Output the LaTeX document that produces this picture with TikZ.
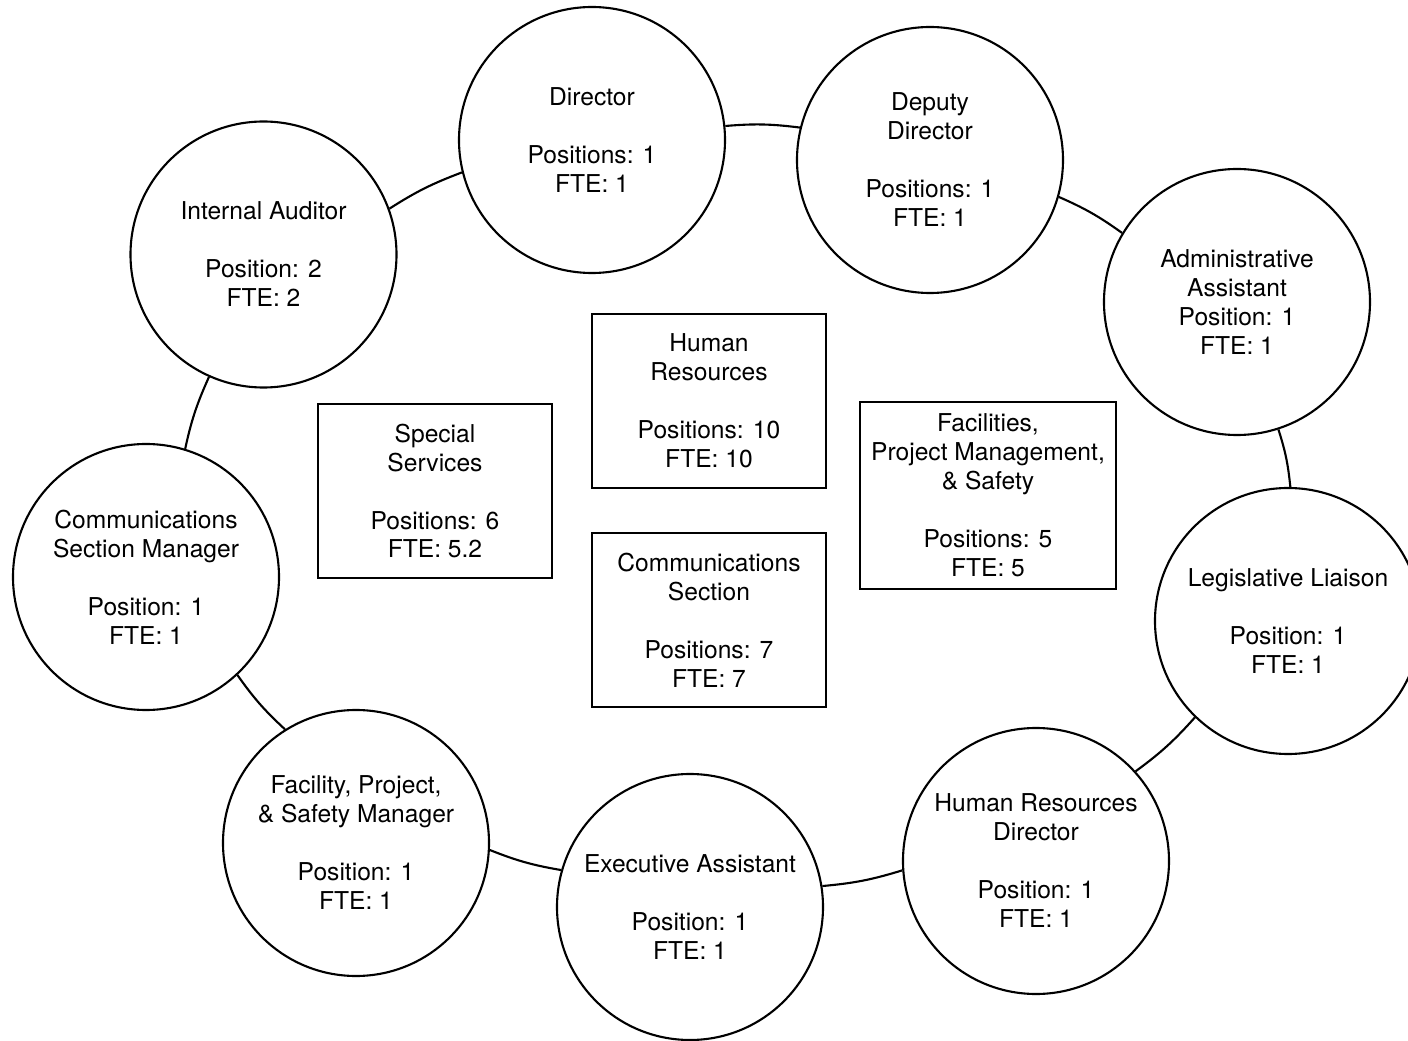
\documentclass[tikz,border=0pt]{standalone}
\usepackage{fontspec}
\setmainfont{TeX Gyre Heros}
\begin{document}
\begin{tikzpicture}[
  every node/.style={font=\fontsize{14}{16.5}\selectfont, align=center},
  role/.style={draw, circle, line width=1.2pt, minimum size=5.32cm, inner sep=0pt},
  unit/.style={draw, rectangle, line width=1.2pt, minimum width=4.68cm, minimum height=3.48cm, inner sep=0pt},
  link/.style={line width=1.2pt, bend left=6}
]
\useasboundingbox (0,0) rectangle (28.16,-20.82);
\clip (0,0) rectangle (28.16,-20.82);

\node[role] (dir) at (11.84,-2.80) {Director\\[16.5pt]Positions: 1\\FTE: 1};
\node[role] (dep) at (18.60,-3.20) {Deputy\\Director\\[16.5pt]Positions: 1\\FTE: 1};
\node[role] (adm) at (24.74,-6.04) {Administrative\\Assistant\\Position: 1\\FTE: 1};
\node[role] (leg) at (25.76,-12.42) {Legislative Liaison\\[16.5pt]Position: 1\\FTE: 1};
\node[role] (hrd) at (20.72,-17.22) {Human Resources\\Director\\[16.5pt]Position: 1\\FTE: 1};
\node[role] (exe) at (13.80,-18.14) {Executive Assistant\\[16.5pt]Position: 1\\FTE: 1};
\node[role] (fac) at (7.12,-16.86) {Facility, Project,\\\& Safety Manager\\[16.5pt]Position: 1\\FTE: 1};
\node[role] (com) at (2.92,-11.54) {Communications\\Section Manager\\[16.5pt]Position: 1\\FTE: 1};
\node[role] (aud) at (5.27,-5.09) {Internal Auditor\\[16.5pt]Position: 2\\FTE: 2};

\node[unit] (ss) at (8.70,-9.82) {Special\\Services\\[16.5pt]Positions: 6\\FTE: 5.2};
\node[unit] (hr) at (14.18,-8.02) {Human\\Resources\\[16.5pt]Positions: 10\\FTE: 10};
\node[unit] (cs) at (14.18,-12.40) {Communications\\Section\\[16.5pt]Positions: 7\\FTE: 7};
\node[unit, minimum width=5.12cm, minimum height=3.74cm] (fps) at (19.76,-9.91) {Facilities,\\Project Management,\\\& Safety\\[16.5pt]Positions: 5\\FTE: 5};

\draw[link] (dir.6.5) to (dep.166.2);
\draw[link] (dep.-16.1) to (adm.149.4);
\draw[link] (adm.-72.4) to (leg.89.6);
\draw[link] (leg.226.8) to (hrd.42.2);
\draw[link] (hrd.184.8) to (exe.9.5);
\draw[link] (exe.164.8) to (fac.-3.9);
\draw[link] (fac.122.8) to (com.-47.8);
\draw[link] (com.73.2) to (aud.246.1);
\draw[link] (aud.20.8) to (dir.194.3);
\end{tikzpicture}
\end{document}
